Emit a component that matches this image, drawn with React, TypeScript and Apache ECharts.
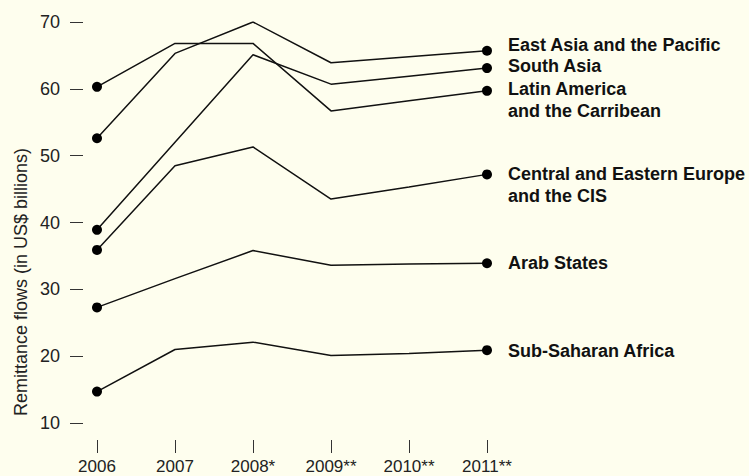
import React, { useEffect, useRef } from "react";
import * as echarts from "echarts";

const years = ["2006", "2007", "2008*", "2009**", "2010**", "2011**"];
const yTicks = [10, 20, 30, 40, 50, 60, 70];

const eastAsia = [52.6, 65.3, 70.0, 63.9, 64.8, 65.7];
const southAsia = [38.9, 52.0, 65.1, 60.7, 61.9, 63.1];
const latinAmerica = [60.3, 66.8, 66.8, 56.7, 58.2, 59.7];
const centralEurope = [35.9, 48.5, 51.3, 43.5, 45.3, 47.2];
const arabStates = [27.3, 31.6, 35.8, 33.6, 33.8, 33.9];
const subSaharan = [14.7, 21.0, 22.1, 20.1, 20.4, 20.9];

const seriesNames = [
  "East Asia and the Pacific",
  "South Asia",
  "Latin America\nand the Carribean",
  "Central and Eastern Europe\nand the CIS",
  "Arab States",
  "Sub-Saharan Africa",
];
const seriesValues = [eastAsia, southAsia, latinAmerica, centralEurope, arabStates, subSaharan];
const labelShift = [-6, -2, 9, 11, 0, 1];

const FONT = "'Liberation Sans', Arial, Helvetica, sans-serif";

export default function App() {
  const ref = useRef<HTMLDivElement>(null);
  useEffect(() => {
    document.body.style.margin = "0";
    if (!ref.current) return;
    const chart = echarts.init(ref.current, undefined, { renderer: "svg" });
    const series = seriesValues.map((vals, si) => ({
      type: "line",
      name: seriesNames[si],
      smooth: false,
      lineStyle: { color: "#111", width: 1.5 },
      itemStyle: { color: "#000" },
      symbolSize: 10,
      showAllSymbol: true,
      data: vals.map((v, i) => ({
        value: v,
        symbol: i === 0 || i === vals.length - 1 ? "circle" : "none",
      })),
      endLabel: {
        show: true,
        formatter: seriesNames[si],
        distance: 21,
        offset: [0, labelShift[si]],
        color: "#111",
        fontFamily: FONT,
        fontWeight: "bold",
        fontSize: 18,
        lineHeight: 22,
        align: "left",
        verticalAlign: "middle",
      },
      emphasis: { disabled: true },
    }));
    chart.setOption({
      animation: false,
      backgroundColor: "#fefeee",
      textStyle: { fontFamily: FONT },
      grid: { left: 97, right: 262, top: 22, bottom: 53 },
      xAxis: {
        type: "category",
        data: years,
        boundaryGap: false,
        offset: 17,
        axisLine: { show: false },
        axisTick: { show: true, length: 13, lineStyle: { color: "#333", width: 1 } },
        axisLabel: { color: "#222", fontSize: 17, margin: 18, fontFamily: FONT },
        splitLine: { show: false },
      },
      yAxis: {
        type: "value",
        min: yTicks[0],
        max: yTicks[yTicks.length - 1],
        interval: 10,
        offset: 14,
        axisLine: { show: false },
        axisTick: { show: true, length: 13, lineStyle: { color: "#333", width: 1 } },
        axisLabel: { color: "#222", fontSize: 18, margin: 23, fontFamily: FONT },
        splitLine: { show: false },
      },
      graphic: [
        {
          type: "text",
          x: 21,
          y: 282,
          rotation: Math.PI / 2,
          style: {
            text: "Remittance flows (in US$ billions)",
            fill: "#222",
            font: `18px ${FONT}`,
            align: "center",
            verticalAlign: "middle",
          },
        },
      ],
      series,
    });
    return () => chart.dispose();
  }, []);
  return <div ref={ref} style={{ width: 749, height: 476 }} />;
}
